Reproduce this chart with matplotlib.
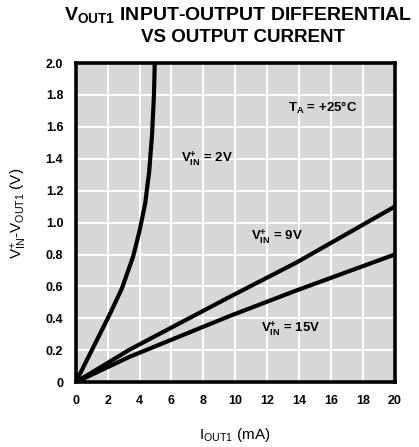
import numpy as np
import matplotlib.pyplot as plt

plt.rcParams['font.family'] = ['Liberation Sans', 'DejaVu Sans']
plt.rcParams['mathtext.fontset'] = 'custom'
plt.rcParams['mathtext.rm'] = 'Liberation Sans'
plt.rcParams['mathtext.bf'] = 'Liberation Sans:bold'
plt.rcParams['mathtext.it'] = 'Liberation Sans:italic'

# --- data ---
i_2v = [0, 0.5, 1.3, 2.15, 2.9, 3.6, 4.0, 4.35, 4.6, 4.78, 4.9, 4.95]
v_2v = [0, 0.10, 0.26, 0.43, 0.59, 0.79, 0.95, 1.12, 1.32, 1.55, 1.80, 2.0]

i_9v = [0, 3.39, 9.66, 13.84, 20]
v_9v = [0, 0.205, 0.535, 0.75, 1.10]

i_15v = [0, 3.39, 9.66, 13.84, 20]
v_15v = [0, 0.160, 0.415, 0.575, 0.80]

x_ticks = list(range(0, 21, 2))
y_ticks = [0, 0.2, 0.4, 0.6, 0.8, 1.0, 1.2, 1.4, 1.6, 1.8, 2.0]
y_tick_labels = ['0', '0.2', '0.4', '0.6', '0.8', '1.0', '1.2', '1.4', '1.6', '1.8', '2.0']

fig = plt.figure(figsize=(4.19, 4.47), dpi=100)
ax = fig.add_axes([0.181, 0.145, 0.761, 0.714])
ax.set_facecolor('#d8d8d8')

for xs, ys in [(i_2v, v_2v), (i_9v, v_9v), (i_15v, v_15v)]:
    ax.plot(xs, ys, color='black', lw=3.0, solid_capstyle='butt',
            solid_joinstyle='round', zorder=3)

ax.set_xlim(0, 20)
ax.set_ylim(0, 2.0)
ax.set_xticks(x_ticks)
ax.set_yticks(y_ticks)
ax.set_yticklabels(y_tick_labels)
ax.tick_params(length=0, pad=9, labelsize=9)
for lbl in ax.get_xticklabels() + ax.get_yticklabels():
    lbl.set_fontweight('bold')
ax.grid(True, color='white', lw=1.5)
ax.set_axisbelow(True)
for s in ax.spines.values():
    s.set_linewidth(2.6)

# curve labels
lab = dict(fontsize=9.5, fontweight='bold', ha='center', va='center')
ax.text(8.2, 1.40, r'$\mathbf{V_{IN}^{+}}$ = 2V', **lab)
ax.text(12.6, 0.91, r'$\mathbf{V_{IN}^{+}}$ = 9V', **lab)
ax.text(13.5, 0.335, r'$\mathbf{V_{IN}^{+}}$ = 15V', **lab)
ax.text(15.5, 1.72, r'$\mathbf{T_A}$ = +25°C', **lab)

ax.set_xlabel(r'$\mathrm{I_{OUT1}}$ (mA)', fontsize=11, labelpad=14)
ax.set_ylabel(r'$\mathrm{V_{IN}^{+}}$-$\mathrm{V_{OUT1}}$ (V)', fontsize=11)
ax.yaxis.set_label_coords(-0.148, 0.53)

fig.text(0.568, 0.966, r'$\mathbf{V_{OUT1}}$ INPUT-OUTPUT DIFFERENTIAL', fontsize=14,
         fontweight='bold', ha='center', va='center')
fig.text(0.58, 0.917, 'VS OUTPUT CURRENT', fontsize=13.5, fontweight='bold',
         ha='center', va='center')

fig.savefig('out.png', dpi=100)
